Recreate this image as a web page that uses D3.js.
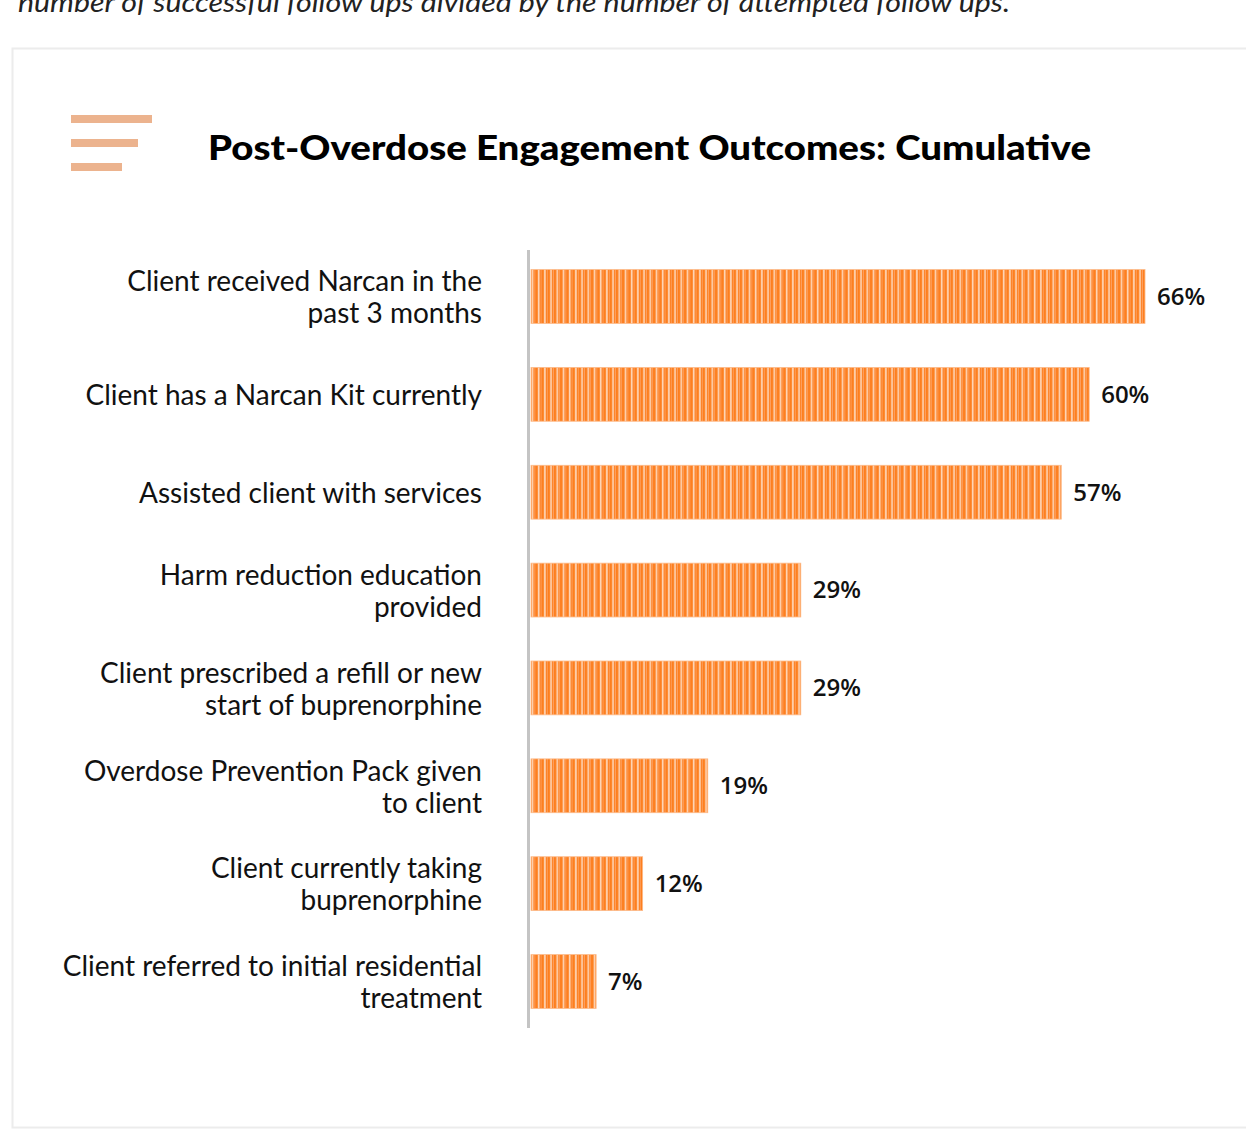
<!DOCTYPE html>
<html>
<head>
<meta charset="utf-8">
<script src="https://cdn.jsdelivr.net/npm/d3@7"></script>
<style>
  body { margin: 0; background: #fff; overflow: hidden; }
  svg { display: block; }
</style>
</head>
<body>
<div id="chart-area"></div>
<script>
// DATA

let categories = [
  ["Client received Narcan in the", "past 3 months"],
  ["Client has a Narcan Kit currently"],
  ["Assisted client with services"],
  ["Harm reduction education", "provided"],
  ["Client prescribed a refill or new", "start of buprenorphine"],
  ["Overdose Prevention Pack given", "to client"],
  ["Client currently taking", "buprenorphine"],
  ["Client referred to initial residential", "treatment"]
];
let values = [66, 60, 57, 29, 29, 19, 12, 7];
let valueLabels = ["66%", "60%", "57%", "29%", "29%", "19%", "12%", "7%"];
let title = "Post-Overdose Engagement Outcomes: Cumulative";
let note = "number of successful follow ups divided by the number of attempted follow ups.";

// CHART AREA

let W = 1246, H = 1130;
let margin = { top: 250, left: 530, right: 0, bottom: 102 };
let width = 614, height = H - margin.top - margin.bottom;

let svg = d3
  .select("#chart-area")
  .append("svg")
  .attr("width", W)
  .attr("height", H);

// stripe pattern for the bars
let defs = svg.append("defs");
let pat = defs.append("pattern")
  .attr("id", "stripes")
  .attr("patternUnits", "userSpaceOnUse")
  .attr("width", 6.2)
  .attr("height", 10);
pat.append("rect").attr("width", 6.2).attr("height", 10).attr("fill", "#fd7f1f");
pat.append("rect").attr("x", 1.6).attr("width", 1.7).attr("height", 10).attr("fill", "#fed6b8");
pat.append("rect").attr("x", 4.4).attr("width", 0.9).attr("height", 10).attr("fill", "#fea060");

// note text at the top (cut off in the source too)
svg.append("text")
  .attr("x", 18)
  .attr("y", 12)
  .style("font-family", "Lato, sans-serif")
  .style("font-style", "italic")
  .style("font-size", "27px")
  .attr("fill", "#222")
  .attr("textLength", 992)
  .attr("lengthAdjust", "spacingAndGlyphs")
  .text(note);

// card
svg.append("rect")
  .attr("x", 12.5)
  .attr("y", 48.5)
  .attr("width", 1260)
  .attr("height", 1079)
  .attr("fill", "#fff")
  .attr("stroke", "#ececec")
  .attr("stroke-width", 2);

// icon
let iconLines = [81, 67, 51];
svg.selectAll(".icon")
  .data(iconLines)
  .enter()
  .append("rect")
  .attr("class", "icon")
  .attr("x", 71)
  .attr("y", (d, i) => 115 + i * 24)
  .attr("width", d => d)
  .attr("height", 8)
  .attr("fill", "#ecb38e");

// title
svg.append("text")
  .attr("x", 208)
  .attr("y", 160)
  .style("font-family", "Lato, sans-serif")
  .style("font-weight", "900")
  .style("font-size", "34px")
  .attr("fill", "#000")
  .attr("textLength", 883)
  .attr("lengthAdjust", "spacingAndGlyphs")
  .text(title);

let g = svg.append("g")
  .attr("transform", "translate(" + margin.left + "," + margin.top + ")");

// AXIS

let x = d3.scaleLinear().domain([0, 66]).range([0, width]);
let y = d3.scaleBand()
  .domain(d3.range(values.length))
  .range([0, height])
  .paddingInner(0.45)
  .paddingOuter(0.2);

// BARS
g.selectAll(".bar")
  .data(values)
  .enter()
  .append("rect")
  .attr("class", "bar")
  .attr("x", x(0) + 1)
  .attr("y", (d, i) => y(i))
  .attr("width", d => x(d))
  .attr("height", y.bandwidth())
  .attr("fill", "url(#stripes)")
  .attr("stroke", "#fdb987")
  .attr("stroke-width", 0.8);

// axis line
g.append("line")
  .attr("x1", -1.5)
  .attr("x2", -1.5)
  .attr("y1", 0)
  .attr("y2", height)
  .attr("stroke", "#c4c4c4")
  .attr("stroke-width", 3);

// value labels
g.selectAll(".value")
  .data(values)
  .enter()
  .append("text")
  .attr("class", "value")
  .attr("x", d => x(d) + 13)
  .attr("y", (d, i) => y(i) + y.bandwidth() / 2)
  .attr("dy", "0.35em")
  .style("font-family", "'Open Sans', sans-serif")
  .style("font-weight", "600")
  .style("font-size", "24px")
  .attr("fill", "#111")
  .text((d, i) => valueLabels[i]);

// category labels
let labels = g.selectAll(".cat")
  .data(categories)
  .enter()
  .append("text")
  .attr("class", "cat")
  .attr("text-anchor", "end")
  .style("font-family", "Lato, sans-serif")
  .style("font-size", "28px")
  .attr("fill", "#111");

labels.each(function(lines, i) {
  let t = d3.select(this);
  let cy = y(i) + y.bandwidth() / 2 + 1;
  let top = cy - (lines.length - 1) * 16;
  lines.forEach((line, j) => {
    t.append("tspan")
      .attr("x", -48)
      .attr("y", top + j * 32)
      .attr("dy", "0.35em")
      .text(line);
  });
});
</script>
</body>
</html>
